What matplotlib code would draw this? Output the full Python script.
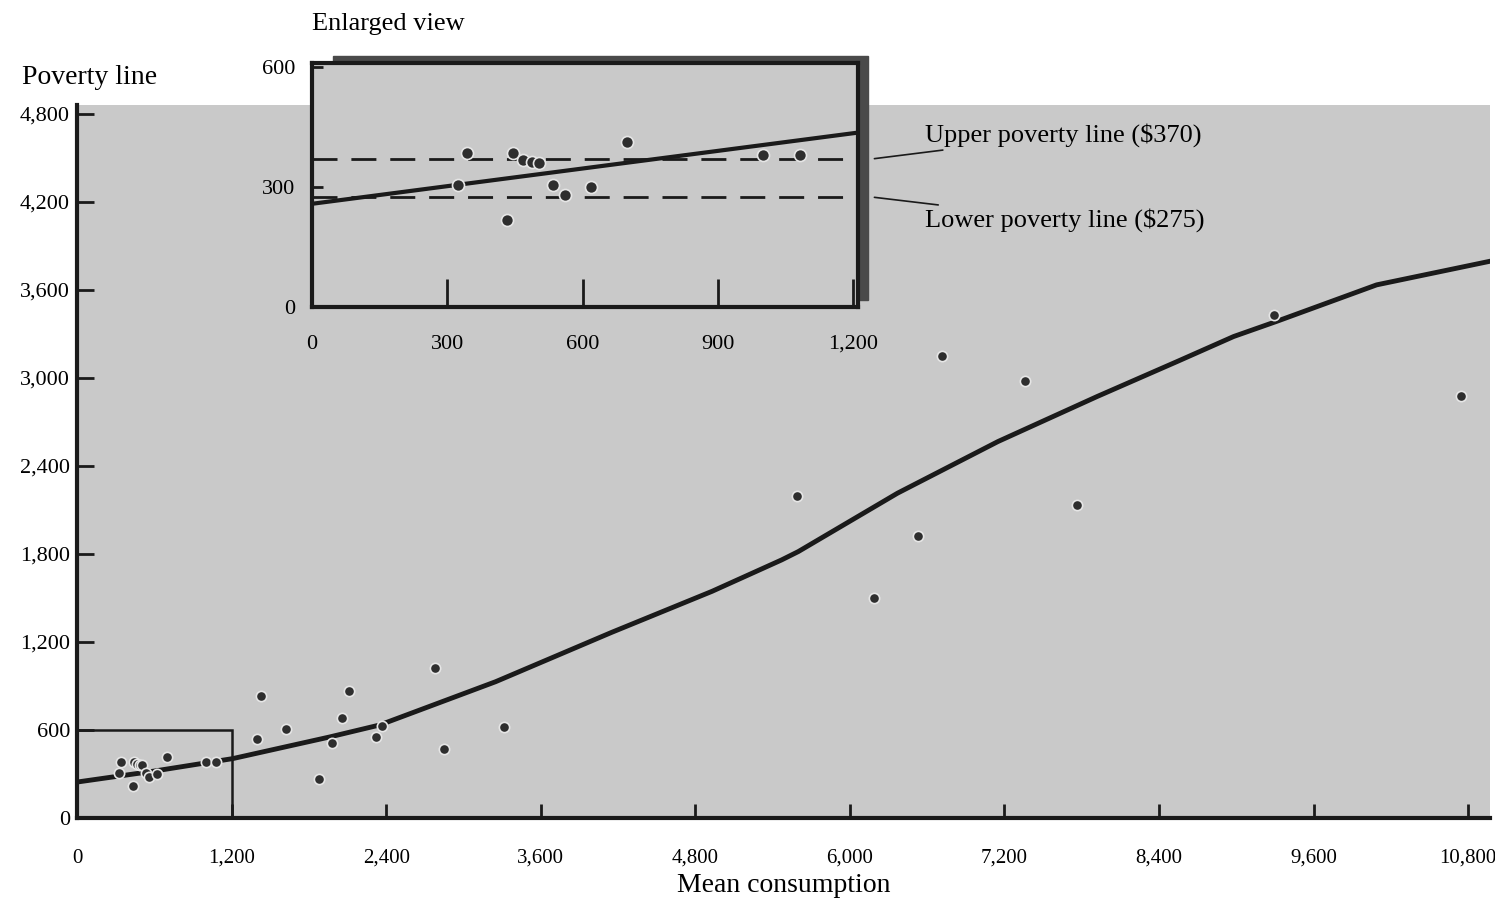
import matplotlib
matplotlib.use("Agg")
import matplotlib.pyplot as plt
from matplotlib.patches import Rectangle

# countries with mean consumption below $1,200 (shown in both panels)
low_x = [323, 344, 433, 446, 467, 488, 504, 535, 560, 619, 699, 1000, 1081]
low_y = [305, 385, 217, 385, 367, 363, 360, 305, 280, 300, 413, 380, 380]

# the rest of the sample
high_x = [1394, 1432, 1626, 1881, 1982, 2060, 2114, 2323, 2370, 2780, 2849, 3313,
          5590, 6186, 6526, 6712, 7362, 7765, 9290, 10745]
high_y = [539, 832, 607, 266, 511, 682, 866, 552, 630, 1023, 470, 620,
          2195, 1500, 1923, 3150, 2980, 2134, 3430, 2877]

# fitted curve, main panel
fit_x = [0, 600, 1210, 1960, 2350, 3250, 4150, 4930, 5470, 5600, 6370, 7150,
         7920, 8540, 8980, 9310, 10090, 10970]
fit_y = [245, 320, 405, 552, 634, 929, 1265, 1545, 1759, 1816, 2214, 2566,
         2873, 3111, 3282, 3384, 3634, 3795]

# fitted line, enlarged view
inset_fit_x = [0, 1210]
inset_fit_y = [258, 436]

upper_line = 370
lower_line = 275

main_xticks = [0, 1200, 2400, 3600, 4800, 6000, 7200, 8400, 9600, 10800]
main_yticks = [0, 600, 1200, 1800, 2400, 3000, 3600, 4200, 4800]
inset_xticks = [0, 300, 600, 900, 1200]
inset_yticks = [0, 300, 600]

W, H = 1495, 916
plt.rcParams['font.family'] = ['Liberation Serif', 'DejaVu Serif']
fig = plt.figure(figsize=(W / 100, H / 100), dpi=100)
bg = '#c9c9c9'
ink = '#1a1a1a'


def fx(px):
    return px / W


def fy(py):
    return 1 - py / H


# ---- main panel ----
ax = fig.add_axes([fx(77), fy(818), fx(1490) - fx(77), fy(105) - fy(818)])
ax.set_facecolor(bg)
ax.set_xlim(0, 10970)
ax.set_ylim(0, 4860)
for s in ['top', 'right']:
    ax.spines[s].set_visible(False)
for s in ['left', 'bottom']:
    ax.spines[s].set_linewidth(3)
    ax.spines[s].set_color(ink)

ax.plot(fit_x, fit_y, color=ink, lw=3.5, zorder=3)
ax.scatter(low_x + high_x, low_y + high_y, s=55, color='#2e2e2e',
           edgecolors='#e6e6e6', linewidths=1.2, zorder=4)
ax.add_patch(Rectangle((0, 0), 1200, 600, fill=False, ec=ink, lw=1.8, zorder=2))

ax.set_xticks(main_xticks)
ax.set_xticklabels([f"{v:,}" for v in main_xticks])
ax.set_yticks(main_yticks)
ax.set_yticklabels([f"{v:,}" for v in main_yticks])
ax.tick_params(axis='x', direction='in', length=10, width=2, pad=22,
               labelsize=15, color=ink)
ax.tick_params(axis='y', direction='in', length=12, width=2, pad=5,
               labelsize=16, color=ink)
ax.set_xlabel("Mean consumption", fontsize=20, labelpad=4)

fig.text(fx(22), fy(77), "Poverty line", fontsize=20, ha='left', va='center')

# shadow behind the enlarged view, drawn on the main panel
ax.add_patch(Rectangle((fx(333), fy(300)), fx(868) - fx(333), fy(56) - fy(300),
                       transform=fig.transFigure, color='#4a4a4a',
                       clip_on=False, zorder=5))

# ---- enlarged view ----
axi = fig.add_axes([fx(312), fy(307), fx(858) - fx(312), fy(63) - fy(307)])
axi.set_facecolor(bg)
axi.set_xlim(0, 1210)
axi.set_ylim(0, 610)
for s in axi.spines.values():
    s.set_linewidth(3)
    s.set_color(ink)

axi.axhline(upper_line, color=ink, lw=2, dashes=(9, 5), zorder=2)
axi.axhline(lower_line, color=ink, lw=2, dashes=(9, 5), zorder=2)
axi.plot(inset_fit_x, inset_fit_y, color=ink, lw=3, zorder=3)
axi.scatter(low_x, low_y, s=75, color='#2e2e2e', edgecolors='#e6e6e6',
            linewidths=1.2, zorder=4)

axi.set_xticks(inset_xticks)
axi.set_xticklabels([f"{v:,}" for v in inset_xticks])
axi.set_yticks(inset_yticks)
axi.tick_params(axis='x', direction='in', length=20, width=2, pad=20,
                labelsize=16, color=ink)
axi.tick_params(axis='y', direction='in', length=8, width=2, pad=12,
                labelsize=16, color=ink)

fig.text(fx(312), fy(24), "Enlarged view", fontsize=19, ha='left', va='center')

for val, py, label in [(upper_line, 135, "Upper poverty line ($370)"),
                       (lower_line, 220, "Lower poverty line ($275)")]:
    axi.annotate(label, xy=(1.025, val), xycoords=axi.get_yaxis_transform(),
                 xytext=(fx(925), fy(py)), textcoords='figure fraction',
                 fontsize=19, ha='left', va='center',
                 arrowprops=dict(arrowstyle='-', color=ink, lw=1.2))

fig.savefig("out.png", dpi=100)
